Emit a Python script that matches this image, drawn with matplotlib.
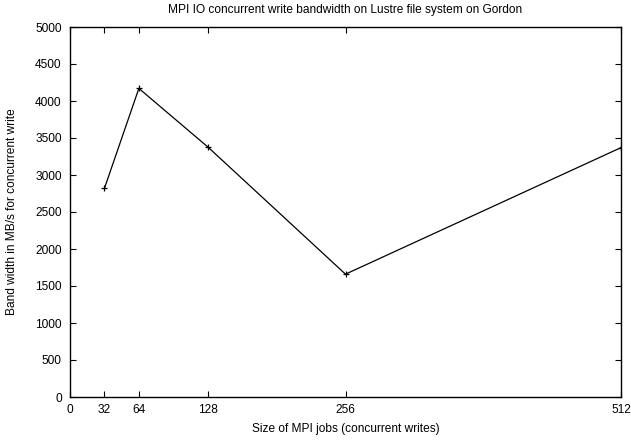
import matplotlib
matplotlib.use("Agg")
import matplotlib.pyplot as plt

plt.rcParams['font.family'] = ['Liberation Sans', 'DejaVu Sans']

job_sizes = [32, 64, 128, 256, 512]
bandwidth = [2820, 4170, 3380, 1660, 3370]
x_ticks = [0, 32, 64, 128, 256, 512]
y_ticks = list(range(0, 5001, 500))

fig = plt.figure(figsize=(6.31, 4.41), dpi=100)
ax = fig.add_axes([70 / 631, 44 / 441, 551 / 631, 370 / 441])

ax.plot(job_sizes, bandwidth, color='black', lw=0.9, marker='+', ms=5, mew=0.9)

ax.set_xlim(0, 512)
ax.set_ylim(0, 5000)
ax.set_xticks(x_ticks)
ax.set_yticks(y_ticks)
ax.tick_params(direction='in', top=True, right=True, length=4, width=0.8,
               labelsize=8.6)
ax.tick_params(axis='y', pad=6)
ax.tick_params(axis='x', pad=5)
for s in ax.spines.values():
    s.set_linewidth(1.0)

ax.set_title('MPI IO concurrent write bandwidth on Lustre file system on Gordon',
             fontsize=8.6, pad=10)
ax.set_xlabel('Size of MPI jobs (concurrent writes)', fontsize=8.6, labelpad=5)
ax.set_ylabel('Band width in MB/s for concurrent write', fontsize=8.6, labelpad=12)

fig.savefig('out.png', dpi=100)
